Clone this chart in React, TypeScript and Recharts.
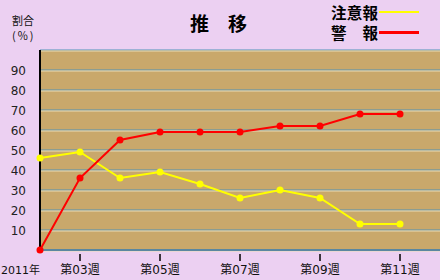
import { CartesianGrid, Line, LineChart, XAxis, YAxis } from "recharts";

const weekLabels = [
  "2011年",
  "第03週",
  "第04週",
  "第05週",
  "第06週",
  "第07週",
  "第08週",
  "第09週",
  "第10週",
  "第11週",
];
const chuiho = [46, 49, 36, 39, 33, 26, 30, 26, 13, 13];
const keiho = [0, 36, 55, 59, 59, 59, 62, 62, 68, 68];
const xTicks = [0, 1, 3, 5, 7, 9];
const yTicks = [10, 20, 30, 40, 50, 60, 70, 80, 90, 100];

const data = weekLabels.map((label, i) => ({
  idx: i,
  label,
  chuiho: chuiho[i],
  keiho: keiho[i],
}));

const BG = "#ecd0f2";
const PLOT = "#c9a86b";
const GRID = "#4f93b8";
const FONT = "'DejaVu Sans', 'Noto Sans CJK JP', sans-serif";
const CJK = "'Noto Sans CJK JP', sans-serif";

function XTick(props: any) {
  const { x, y, payload } = props;
  const v = payload.value as number;
  const first = v === 0;
  return (
    <g>
      {!first && <line x1={x} x2={x} y1={y - 4} y2={y + 3} stroke="#000" strokeWidth={1.5} />}
      <text
        x={x}
        y={y + 16}
        textAnchor={first ? "end" : "middle"}
        fontSize={first ? 11 : 12}
        fontFamily={FONT}
        fill="#111"
      >
        {weekLabels[v]}
      </text>
    </g>
  );
}

function YTick(props: any) {
  const { x, y, payload } = props;
  if (payload.value >= 100) return <g />;
  return (
    <text x={x - 6} y={y + 5} textAnchor="end" fontSize={12} fontFamily={FONT} fill="#222">
      {payload.value}
    </text>
  );
}

function GridLine(props: any) {
  const { x1, x2, y1, y2 } = props;
  return (
    <g key={`g-${y1}`}>
      <line x1={x1} x2={x2} y1={y1} y2={y2} stroke={GRID} strokeWidth={1} />
      <line x1={x1} x2={x2} y1={y1 + 1} y2={y2 + 1} stroke="#eadcb8" strokeWidth={1} />
    </g>
  );
}

export default function App() {
  return (
    <div
      style={{
        position: "absolute",
        left: 0,
        top: 0,
        width: 440,
        height: 280,
        background: BG,
        overflow: "hidden",
      }}
    >
      <div style={{ position: "absolute", left: 12, top: 13, fontSize: 11, fontFamily: CJK, lineHeight: "15px", color: "#111" }}>
        割合
        <br />
        <span style={{ letterSpacing: 1.5 }}>(％)</span>
      </div>
      <div
        style={{
          position: "absolute",
          left: 190,
          top: 9,
          fontSize: 19,
          fontWeight: "bold",
          fontFamily: CJK,
          color: "#000",
        }}
      >
        推　移
      </div>
      <div style={{ position: "absolute", left: 331, top: 2, fontSize: 15.5, fontWeight: "bold", fontFamily: CJK, lineHeight: "20px", color: "#000" }}>
        <div style={{ display: "flex", alignItems: "center", height: 20 }}>
          <span style={{ letterSpacing: 0.3 }}>注意報</span>
          <span style={{ display: "inline-block", width: 40, height: 2, background: "#ffff00", marginLeft: 1 }} />
        </div>
        <div style={{ display: "flex", alignItems: "center", height: 20 }}>
          <span style={{ letterSpacing: 0.3 }}>警　報</span>
          <span style={{ display: "inline-block", width: 40, height: 3, background: "#ff0000", marginLeft: 1 }} />
        </div>
      </div>
      <div style={{ position: "absolute", left: 0, top: 0 }}>
        <LineChart width={440} height={280} data={data} margin={{ top: 50, right: 0, bottom: 0, left: 0 }}>
          <CartesianGrid fill={PLOT} vertical={false} horizontal={GridLine} stroke={GRID} />
          <XAxis
            dataKey="idx"
            type="number"
            domain={[0, 10]}
            ticks={xTicks}
            height={30}
            tick={XTick}
            tickLine={false}
            axisLine={{ stroke: "#5a87a0", strokeWidth: 2 }}
            interval={0}
          />
          <YAxis
            type="number"
            domain={[0, 100]}
            ticks={yTicks}
            width={40}
            tick={YTick}
            tickLine={false}
            axisLine={{ stroke: "#000", strokeWidth: 2 }}
            interval={0}
          />
          <Line
            dataKey="chuiho"
            stroke="#ffff00"
            strokeWidth={2}
            dot={{ r: 3.5, fill: "#ffff00", stroke: "none" }}
            isAnimationActive={false}
          />
          <Line
            dataKey="keiho"
            stroke="#ff0000"
            strokeWidth={2}
            dot={{ r: 3.5, fill: "#ff0000", stroke: "none" }}
            isAnimationActive={false}
          />
        </LineChart>
      </div>
    </div>
  );
}
